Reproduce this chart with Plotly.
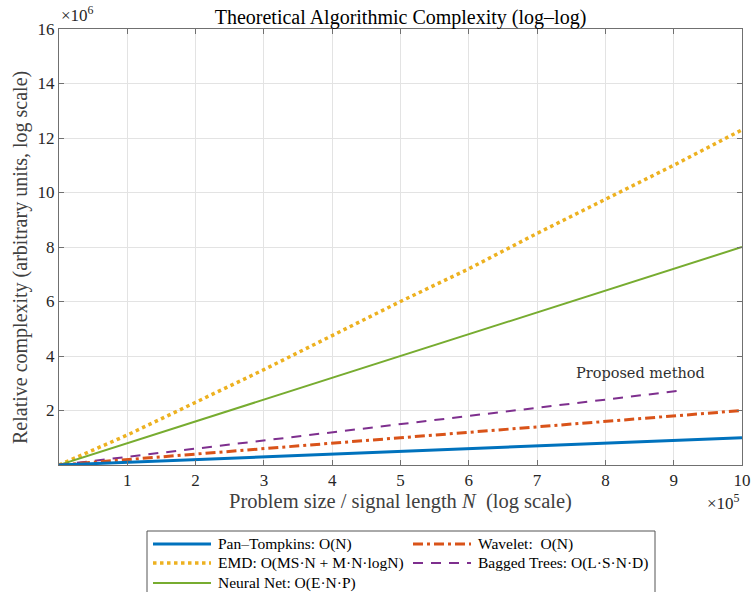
import plotly.graph_objects as go

# Data (problem size N, relative complexity)
N = [0, 1e5, 2e5, 3e5, 4e5, 5e5, 6e5, 7e5, 8e5, 9e5, 1e6]
pan_tompkins = [0, 1e5, 2e5, 3e5, 4e5, 5e5, 6e5, 7e5, 8e5, 9e5, 1e6]
wavelet = [0, 2e5, 4e5, 6e5, 8e5, 1.0e6, 1.2e6, 1.4e6, 1.6e6, 1.8e6, 2.0e6]
emd = [0, 1.1e6, 2.3e6, 3.5e6, 4.75e6, 6.0e6, 7.2e6, 8.5e6, 9.75e6, 11.0e6, 12.3e6]
neural_net = [0, 0.8e6, 1.6e6, 2.4e6, 3.2e6, 4.0e6, 4.8e6, 5.6e6, 6.4e6, 7.2e6, 8.0e6]
bagged_N = [0, 1e5, 2e5, 3e5, 4e5, 5e5, 6e5, 7e5, 8e5, 9e5, 9.1e5]
bagged_trees = [0, 0.3e6, 0.6e6, 0.9e6, 1.2e6, 1.5e6, 1.8e6, 2.1e6, 2.4e6, 2.7e6, 2.73e6]

x_ticks = [1e5, 2e5, 3e5, 4e5, 5e5, 6e5, 7e5, 8e5, 9e5, 1e6]
x_ticklabels = ["1", "2", "3", "4", "5", "6", "7", "8", "9", "10"]
y_ticks = [2e6, 4e6, 6e6, 8e6, 10e6, 12e6, 14e6, 16e6]
y_ticklabels = ["2", "4", "6", "8", "10", "12", "14", "16"]

names = ["Pan–Tompkins: O(N)", "Wavelet:  O(N)", "EMD: O(MS·N + M·N·logN)",
         "Bagged Trees: O(L·S·N·D)", "Neural Net: O(E·N·P)"]
styles = {
    "Pan–Tompkins: O(N)": dict(color="#0072BD", width=3, dash="solid"),
    "Wavelet:  O(N)": dict(color="#D95319", width=3, dash="10px,4px,3px,4px"),
    "EMD: O(MS·N + M·N·logN)": dict(color="#EDB120", width=3.5, dash="dot"),
    "Bagged Trees: O(L·S·N·D)": dict(color="#7E2F8E", width=2, dash="10px,8px"),
    "Neural Net: O(E·N·P)": dict(color="#77AC30", width=2, dash="solid"),
}

SERIF = "Liberation Serif"
TXT = "#262626"

# figure geometry (pixels)
W, H = 751, 592
ML, MR, MT, MB = 59, 9, 29, 127
PW, PH = W - ML - MR, H - MT - MB


def px2paper(px, py):
    return (px - ML) / PW, (H - MB - py) / PH


fig = go.Figure()
series = [
    (N, emd, names[2]),
    (N, neural_net, names[4]),
    (bagged_N, bagged_trees, names[3]),
    (N, wavelet, names[1]),
    (N, pan_tompkins, names[0]),
]
for xs, ys, nm in series:
    fig.add_trace(go.Scatter(x=xs, y=ys, mode="lines", name=nm,
                             line=styles[nm], showlegend=False))

axis_common = dict(
    showgrid=True, gridcolor="#e3e3e3", gridwidth=1,
    showline=True, linecolor="#707070", linewidth=1, mirror="allticks",
    ticks="inside", ticklen=5, tickcolor="#707070",
    zeroline=False, automargin=False,
    tickfont=dict(family=SERIF, size=17, color=TXT),
)

fig.update_layout(
    width=W, height=H,
    margin=dict(l=ML, r=MR, t=MT, b=MB),
    plot_bgcolor="white", paper_bgcolor="white",
    title=dict(text="Theoretical Algorithmic Complexity (log–log)",
               x=(ML + PW / 2) / W, xanchor="center", y=1 - 17 / H, yanchor="middle",
               font=dict(family=SERIF, size=20, color="black")),
    xaxis=dict(range=[0, 1e6], tickvals=x_ticks, ticktext=x_ticklabels,
               title=dict(text="Problem size / signal length <i>N</i>  (log scale)",
                          font=dict(family=SERIF, size=20.5, color="#404040"), standoff=4),
               **axis_common),
    yaxis=dict(range=[0, 16e6], tickvals=y_ticks, ticktext=y_ticklabels, **axis_common),
    showlegend=False,
)

# y-axis title as rotated annotation (centred like the reference)
lx, ly = px2paper(20, 258)
fig.add_annotation(text="Relative complexity (arbitrary units, log scale)",
                   x=lx, y=ly, xref="paper", yref="paper", textangle=-90,
                   xanchor="center", yanchor="middle", showarrow=False,
                   font=dict(family=SERIF, size=20, color="#404040"))

# Legend box (manual, MATLAB-like two-column layout)
bx0, by0 = px2paper(147, 531)
bx1, by1 = px2paper(655, 602)
fig.add_shape(type="rect", xref="paper", yref="paper", x0=bx0, x1=bx1, y0=by1, y1=by0,
              line=dict(color="#555555", width=1), fillcolor="white", layer="above")
legend_layout = [
    (names[0], 153, 544), (names[1], 413, 544),
    (names[2], 153, 563), (names[3], 413, 563),
    (names[4], 153, 583),
]
for nm, sx, sy in legend_layout:
    x0, y0 = px2paper(sx, sy)
    x1, _ = px2paper(sx + 58, sy)
    st = styles[nm]
    fig.add_shape(type="line", xref="paper", yref="paper", x0=x0, x1=x1, y0=y0, y1=y0,
                  line=dict(color=st["color"], width=st["width"], dash=st["dash"]), layer="above")
    tx, ty = px2paper(sx + 63, sy)
    fig.add_annotation(text=nm, x=tx, y=ty, xref="paper", yref="paper", xanchor="left",
                       yanchor="middle", showarrow=False,
                       font=dict(family=SERIF, size=15.5, color="black"))

fig.add_annotation(text="Proposed method", x=8.52e5, y=3.38e6, xref="x", yref="y",
                   showarrow=False, font=dict(family="DejaVu Serif", size=14.5, color="#303030"))
fig.add_annotation(text="×10<sup>6</sup>", x=0, xanchor="left", y=1.0, yanchor="bottom",
                   xref="paper", yref="paper", showarrow=False, yshift=2,
                   font=dict(family=SERIF, size=17, color=TXT))
fig.add_annotation(text="×10<sup>5</sup>", x=1.0, xanchor="right", y=0, yanchor="top",
                   xref="paper", yref="paper", showarrow=False, yshift=-24,
                   font=dict(family=SERIF, size=17, color=TXT))

fig.write_html("out.html")
